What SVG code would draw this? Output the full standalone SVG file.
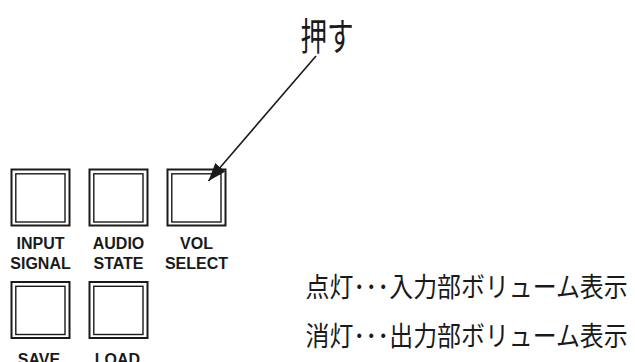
<svg xmlns="http://www.w3.org/2000/svg" width="635" height="362" viewBox="0 0 635 362">
<style>
.outer{fill:none;stroke:#1a1a1a;stroke-width:2}
.inner{fill:none;stroke:#1a1a1a;stroke-width:1.4}
.lbl{font-family:"Liberation Sans",Arial,sans-serif;font-weight:bold;font-size:16px;fill:#1a1a1a;text-anchor:middle}
.jp{font-family:"Noto Sans CJK JP","Noto Sans",sans-serif;fill:#1a1a1a}
.conn{stroke:#1a1a1a;stroke-width:1.6;fill:none}
</style>
<defs>
<marker id="ah" markerUnits="userSpaceOnUse" markerWidth="19" markerHeight="13" refX="18" refY="6.5" orient="auto">
<path d="M0,0 L18,6.5 L0,13 z" fill="#1a1a1a"/>
</marker>
</defs>
<rect width="635" height="362" fill="#ffffff"/>
<g id="btn-input-signal">
<rect class="outer" x="11.5" y="169.5" width="58" height="56"/>
<rect class="inner" x="15.8" y="173.8" width="49.2" height="48.2"/>
<text class="lbl" x="40.5" y="249">INPUT</text>
<text class="lbl" x="40.5" y="268.5">SIGNAL</text>
</g>
<g id="btn-audio-state">
<rect class="outer" x="89.5" y="169.5" width="58" height="56"/>
<rect class="inner" x="93.8" y="173.8" width="49.2" height="48.2"/>
<text class="lbl" x="118.5" y="249">AUDIO</text>
<text class="lbl" x="118.5" y="268.5">STATE</text>
</g>
<g id="btn-vol-select">
<rect class="outer" x="167.5" y="169.5" width="58" height="56"/>
<rect class="inner" x="171.8" y="173.8" width="49.2" height="48.2"/>
<text class="lbl" x="196.5" y="249">VOL</text>
<text class="lbl" x="196.5" y="268.5">SELECT</text>
</g>
<g id="btn-save">
<rect class="outer" x="11.5" y="282" width="58" height="56"/>
<rect class="inner" x="15.8" y="286.3" width="49.2" height="48.2"/>
<text class="lbl" x="39" y="365">SAVE</text>
</g>
<g id="btn-load">
<rect class="outer" x="89.5" y="282" width="58" height="56"/>
<rect class="inner" x="93.8" y="286.3" width="49.2" height="48.2"/>
<text class="lbl" x="117.5" y="365">LOAD</text>
</g>
<g id="label-push">
<text class="jp" font-size="38" transform="translate(300.5,50) scale(0.7,1)">押す</text>
</g>
<g id="legend">
<text class="jp" font-size="27.5" transform="translate(305.5,297) scale(0.87,1)">点灯･･･入力部ボリューム表示</text>
<text class="jp" font-size="27.5" transform="translate(305.5,346) scale(0.87,1)">消灯･･･出力部ボリューム表示</text>
</g>
<g id="connectors">
<line class="conn" x1="316" y1="56" x2="208.5" y2="181" marker-end="url(#ah)"/>
</g>
</svg>
